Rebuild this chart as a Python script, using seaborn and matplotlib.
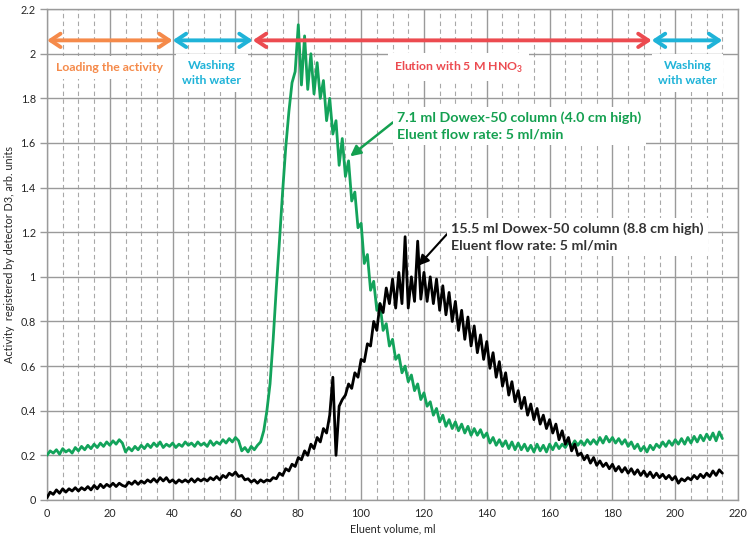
import numpy as np
import pandas as pd
import matplotlib
matplotlib.use("Agg")
import matplotlib.pyplot as plt
from matplotlib.ticker import MultipleLocator
import seaborn as sns

# ---------------- data ----------------
volume_ml = list(range(0, 216))

green_activity = [
    0.20, 0.22, 0.21, 0.225, 0.205, 0.23, 0.215, 0.225, 0.21, 0.235,
    0.22, 0.24, 0.225, 0.245, 0.23, 0.25, 0.235, 0.255, 0.24, 0.26,
    0.245, 0.265, 0.25, 0.27, 0.255, 0.215, 0.235, 0.22, 0.24, 0.225,
    0.245, 0.23, 0.25, 0.235, 0.255, 0.24, 0.26, 0.235, 0.25, 0.24,
    0.255, 0.235, 0.25, 0.24, 0.26, 0.245, 0.255, 0.24, 0.26, 0.245,
    0.255, 0.24, 0.265, 0.245, 0.26, 0.25, 0.27, 0.255, 0.275, 0.26,
    0.28, 0.265, 0.22, 0.235, 0.215, 0.24, 0.225, 0.245, 0.26, 0.31,
    0.40, 0.52, 0.72, 0.95, 1.16, 1.38, 1.58, 1.74, 1.87, 1.92,
    2.13, 1.86, 2.08, 1.84, 2.00, 1.82, 1.96, 1.80, 1.88, 1.70,
    1.80, 1.64, 1.70, 1.50, 1.62, 1.45, 1.52, 1.34, 1.38, 1.22,
    1.24, 1.06, 1.10, 0.94, 0.98, 0.85, 0.88, 0.76, 0.79, 0.69,
    0.72, 0.63, 0.65, 0.57, 0.60, 0.53, 0.56, 0.49, 0.52, 0.45,
    0.48, 0.42, 0.44, 0.38, 0.41, 0.35, 0.38, 0.33, 0.36, 0.32,
    0.35, 0.31, 0.34, 0.30, 0.33, 0.29, 0.32, 0.29, 0.315, 0.28,
    0.30, 0.255, 0.28, 0.245, 0.27, 0.24, 0.265, 0.23, 0.26, 0.225,
    0.255, 0.225, 0.25, 0.22, 0.245, 0.215, 0.25, 0.22, 0.245, 0.215,
    0.25, 0.225, 0.255, 0.23, 0.25, 0.235, 0.26, 0.24, 0.265, 0.245,
    0.265, 0.245, 0.27, 0.25, 0.27, 0.25, 0.28, 0.255, 0.285, 0.26,
    0.28, 0.255, 0.275, 0.25, 0.27, 0.24, 0.26, 0.23, 0.25, 0.22,
    0.24, 0.215, 0.245, 0.225, 0.25, 0.235, 0.26, 0.24, 0.265, 0.245,
    0.27, 0.25, 0.275, 0.25, 0.28, 0.255, 0.285, 0.26, 0.29, 0.265,
    0.295, 0.27, 0.30, 0.265, 0.305, 0.275,
]

black_activity = [
    0.01, 0.035, 0.025, 0.045, 0.03, 0.05, 0.035, 0.05, 0.04, 0.055,
    0.04, 0.055, 0.045, 0.06, 0.045, 0.065, 0.05, 0.07, 0.055, 0.07,
    0.06, 0.075, 0.06, 0.075, 0.065, 0.06, 0.08, 0.07, 0.085, 0.07,
    0.085, 0.075, 0.09, 0.08, 0.095, 0.08, 0.10, 0.085, 0.10, 0.08,
    0.09, 0.075, 0.09, 0.08, 0.09, 0.08, 0.095, 0.08, 0.095, 0.085,
    0.095, 0.085, 0.10, 0.09, 0.105, 0.09, 0.11, 0.10, 0.12, 0.11,
    0.125, 0.105, 0.11, 0.09, 0.095, 0.08, 0.09, 0.075, 0.09, 0.08,
    0.09, 0.085, 0.10, 0.095, 0.12, 0.11, 0.14, 0.13, 0.16, 0.15,
    0.19, 0.18, 0.22, 0.20, 0.25, 0.23, 0.28, 0.26, 0.32, 0.30,
    0.38, 0.55, 0.20, 0.42, 0.45, 0.47, 0.52, 0.50, 0.57, 0.55,
    0.63, 0.62, 0.70, 0.69, 0.80, 0.76, 0.88, 0.84, 0.95, 0.88,
    0.99, 0.86, 1.02, 0.88, 1.18, 0.86, 1.00, 0.89, 1.16, 0.90,
    1.02, 0.89, 1.00, 0.88, 0.99, 0.85, 0.96, 0.83, 0.93, 0.80,
    0.89, 0.76, 0.85, 0.72, 0.82, 0.69, 0.78, 0.66, 0.74, 0.63,
    0.71, 0.59, 0.66, 0.55, 0.62, 0.51, 0.57, 0.47, 0.53, 0.44,
    0.49, 0.41, 0.46, 0.38, 0.43, 0.36, 0.41, 0.34, 0.38, 0.32,
    0.36, 0.30, 0.34, 0.27, 0.31, 0.25, 0.28, 0.22, 0.25, 0.20,
    0.21, 0.18, 0.20, 0.165, 0.19, 0.155, 0.175, 0.15, 0.165, 0.14,
    0.16, 0.13, 0.15, 0.125, 0.145, 0.12, 0.14, 0.115, 0.135, 0.11,
    0.13, 0.105, 0.125, 0.10, 0.12, 0.10, 0.115, 0.095, 0.11, 0.09,
    0.105, 0.075, 0.095, 0.085, 0.10, 0.09, 0.11, 0.095, 0.115, 0.10,
    0.12, 0.105, 0.13, 0.11, 0.135, 0.12,
]

# phase arrows: (start, end, label, colour, label x, label y)
phase_starts = [0, 40, 65.5, 192.5]
phase_ends = [40, 65.5, 192.5, 215]
phase_labels = ["Loading the activity", "Washing\nwith water",
                "Elution with 5 M HNO$_\\mathbf{3}$", "Washing\nwith water"]
phase_colors = ["#f58a4a", "#1fb3d8", "#ec4b50", "#1fb3d8"]
phase_label_x = [20, 52.5, 131, 204]
phase_label_y = [1.94, 1.915, 1.94, 1.915]
arrow_y = 2.06

x_ticks = list(range(0, 221, 20))
y_ticks = [0, 0.2, 0.4, 0.6, 0.8, 1, 1.2, 1.4, 1.6, 1.8, 2, 2.2]
y_tick_labels = ["0", "0.2", "0.4", "0.6", "0.8", "1", "1.2", "1.4", "1.6", "1.8", "2", "2.2"]

# ---------------- drawing ----------------
sns.set_theme(style="white")
plt.rcParams["font.family"] = ["Lato", "DejaVu Sans"]
plt.rcParams["mathtext.fontset"] = "custom"
plt.rcParams["mathtext.rm"] = "Lato"
plt.rcParams["mathtext.bf"] = "Lato:bold"

fig = plt.figure(figsize=(7.52, 5.37), dpi=100)
ax = fig.add_axes([0.0625, 0.069, 0.919, 0.914])

df = pd.DataFrame({"volume": volume_ml, "green": green_activity, "black": black_activity})
sns.lineplot(data=df, x="volume", y="green", color="#13a35b", lw=2.0, ax=ax, zorder=3)
sns.lineplot(data=df, x="volume", y="black", color="black", lw=2.0, ax=ax, zorder=4)

ax.set_xlim(0, 220)
ax.set_ylim(0, 2.2)
ax.set_xticks(x_ticks)
ax.set_yticks(y_ticks)
ax.set_yticklabels(y_tick_labels)
ax.xaxis.set_minor_locator(MultipleLocator(5))

ax.grid(which="major", axis="both", color="#9a9a9a", lw=1.0, zorder=0)
ax.grid(which="minor", axis="x", color="#a8a8a8", lw=0.8, ls=(0, (4, 3)), zorder=0)
ax.set_axisbelow(True)
for s in ax.spines.values():
    s.set_color("#9a9a9a")
    s.set_linewidth(1.0)

ax.tick_params(axis="y", which="major", direction="out", length=5, width=1,
               color="#9a9a9a", labelsize=7.8, pad=3, left=True)
ax.tick_params(axis="x", which="both", length=0, labelsize=7.8, pad=6)
ax.set_xlabel("Eluent volume, ml", fontsize=7.8, labelpad=3)
ax.set_ylabel("Activity  registered by detector D3, arb. units", fontsize=7.8, labelpad=4)

# phase arrows and labels
for x0, x1, lab, col, lx, ly in zip(phase_starts, phase_ends, phase_labels,
                                    phase_colors, phase_label_x, phase_label_y):
    ax.annotate("", xy=(x1, arrow_y), xytext=(x0, arrow_y),
                arrowprops=dict(arrowstyle="<->,head_length=0.6,head_width=0.4",
                                color=col, lw=2.8, shrinkA=0, shrinkB=0),
                zorder=6)
    ax.text(lx, ly, lab, color=col, fontsize=8.8, fontweight="bold",
            ha="center", va="center", linespacing=1.45, zorder=5,
            bbox=dict(boxstyle="square,pad=0.5", fc="white", ec="none"))

# curve annotations
ax.annotate("7.1 ml Dowex-50 column (4.0 cm high)\nEluent flow rate: 5 ml/min",
            xy=(96.5, 1.54), xytext=(111.5, 1.675),
            color="#14a050", fontsize=10.3, fontweight="bold", ha="left", va="center",
            linespacing=1.45, zorder=7,
            bbox=dict(boxstyle="square,pad=0.3", fc="white", ec="none"),
            arrowprops=dict(arrowstyle="-|>,head_length=0.6,head_width=0.3",
                            color="#14a050", lw=1.8, shrinkA=0, shrinkB=0,
                            relpos=(0, 0.75)))
ax.annotate("15.5 ml Dowex-50 column (8.8 cm high)\nEluent flow rate: 5 ml/min",
            xy=(118.2, 1.05), xytext=(128.7, 1.18),
            color="#333333", fontsize=10.3, fontweight="bold", ha="left", va="center",
            linespacing=1.45, zorder=7,
            bbox=dict(boxstyle="square,pad=0.3", fc="white", ec="none"),
            arrowprops=dict(arrowstyle="-|>,head_length=0.6,head_width=0.3",
                            color="black", lw=1.5, shrinkA=0, shrinkB=0,
                            relpos=(0, 0.75)))

fig.savefig("out.png", dpi=100)
